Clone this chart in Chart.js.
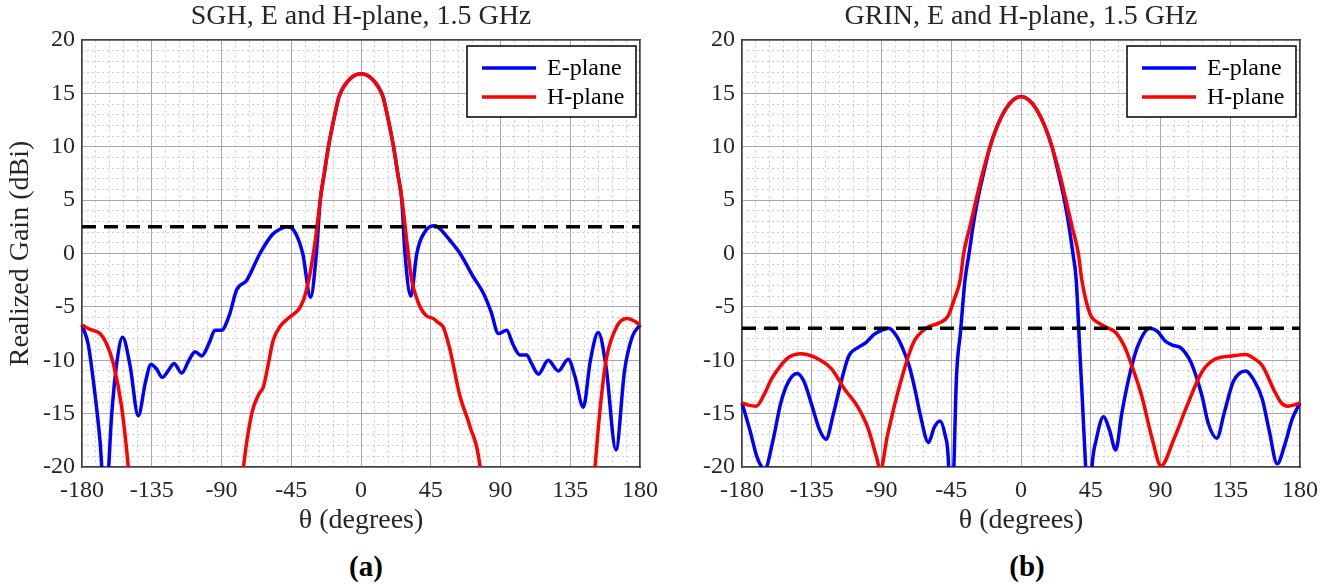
<!DOCTYPE html>
<html>
<head>
<meta charset="utf-8">
<title>Realized gain, SGH and GRIN</title>
<script src="https://cdn.jsdelivr.net/npm/chart.js@4.4.1/dist/chart.umd.min.js"></script>
<style>
  html, body { margin: 0; padding: 0; background: #fff; }
  #page { position: relative; width: 1333px; height: 584px; overflow: hidden; font-family: 'Liberation Serif', 'Times New Roman', serif; }
  .panel { position: absolute; top: 0; }
  .tag { position: absolute; top: 548px; width: 80px; margin-left: -40px; text-align: center; font-weight: bold; font-size: 29px; line-height: 36px; color: #000; }
</style>
</head>
<body>
<div id="page">
  <div class="panel" style="left:0"><canvas id="sghChart" width="673" height="545"></canvas></div>
  <div class="panel" style="left:660px"><canvas id="grinChart" width="673" height="545"></canvas></div>
  <div class="tag" style="left:366px">(a)</div>
  <div class="tag" style="left:1027px">(b)</div>
</div>
<script>
'use strict';

let xTicks = [-180, -135, -90, -45, 0, 45, 90, 135, 180];
let yTicks = [-20, -15, -10, -5, 0, 5, 10, 15, 20];

// (a) SGH
let sghThetaE = [-180, -176, -172.7, -168.4, -165, -160.8, -157.6, -153.8, -149, -143.7, -139, -135.5, -132, -128.2, -124, -120.6, -115.7, -111, -107, -102.8, -98, -94.2, -90, -85, -80.2, -73.7, -65.2, -57, -52, -47.9, -43, -37.6, -32.5, -28.8, -26.3, -23.7, -21, -17.5, -16, -14.4, -12, -9, -6, -3, 0, 3, 6, 9, 12, 14.4, 16, 17.5, 21, 23.7, 26.3, 28.4, 32.1, 36, 42, 47.7, 53, 57, 63.9, 72.5, 78.9, 84, 88.6, 94, 98, 102.6, 106.9, 110, 114.4, 120.8, 127.3, 133.7, 138, 143.4, 148, 153.1, 158, 164.5, 170, 175, 180];
let sghGainE = [-6.7, -8.5, -11.9, -17.5, -24, -15, -10.3, -7.85, -10.5, -15.2, -12, -10.4, -10.8, -11.6, -10.9, -10.3, -11.2, -10, -9.2, -9.6, -8.4, -7.2, -7.2, -5.8, -3.4, -2.5, 0, 1.8, 2.3, 2.5, 2.1, 0, -4.1, 0, 5, 7.5, 10, 12.6, 13.6, 14.6, 15.4, 16.05, 16.5, 16.76, 16.85, 16.76, 16.5, 16.05, 15.4, 14.6, 13.6, 12.6, 10, 7.5, 5, 0, -4.0, 0, 2.2, 2.6, 2.0, 1.3, 0, -2.2, -3.7, -5.5, -7.5, -7.2, -8.5, -9.5, -9.5, -10.3, -11.3, -10, -11, -9.9, -11.5, -14.4, -10, -7.4, -10.5, -18.4, -11, -7.8, -6.7];

let sghThetaH = [-180, -175, -168.4, -164, -159.8, -154.4, -150.1, -145, -82, -75.9, -70.5, -66, -63, -60, -56.6, -52, -48, -43.7, -40, -37.2, -35, -32.9, -29.5, -26.3, -23.7, -21, -17.5, -16, -14.4, -12, -9, -6, -3, 0, 3, 6, 9, 12, 14.4, 16, 17.5, 21, 23.7, 26.5, 29.5, 32.7, 35.5, 38.1, 42, 46.7, 50, 53.1, 57.4, 63.9, 70.3, 76.8, 82, 146, 151, 155, 158.5, 165, 171.4, 176, 180];
let sghGainH = [-6.7, -7.1, -7.5, -8.5, -10.3, -14.4, -20.1, -30, -30, -20.1, -15, -13.2, -12.5, -10.5, -8.1, -6.8, -6.2, -5.7, -5.2, -4.4, -3.3, -1.9, 1.2, 5, 7.5, 10, 12.6, 13.6, 14.6, 15.4, 16.05, 16.5, 16.76, 16.85, 16.76, 16.5, 16.05, 15.4, 14.6, 13.6, 12.6, 10, 7.5, 5, 1.2, -2.5, -4, -5, -5.8, -6.1, -6.5, -6.9, -9, -13.4, -16.2, -20, -30, -30, -20, -13.5, -9.7, -6.85, -6.1, -6.3, -6.7];

let sghLevel = 2.5;

// (b) GRIN
let grinThetaE = [-180, -175, -170, -165.3, -160, -155, -150, -144.4, -140, -135, -130, -125.8, -121, -116, -111.1, -105, -100, -95, -90, -85.3, -80, -76, -72.2, -68, -65.3, -59.7, -56, -52.2, -49, -47, -45, -43.3, -41.7, -39, -36.1, -33.5, -31, -28, -24, -20, -15, -10, -5, 0, 5, 10, 15, 20, 24, 28, 31, 33.5, 35.6, 38, 41.7, 43.5, 45.8, 48.6, 53.3, 57, 61.1, 65, 69.4, 75, 83.3, 88, 93, 98, 102.8, 106, 109.7, 116.7, 121, 126.4, 131, 137, 145, 150, 155.6, 160, 165.3, 170, 175, 180];
let grinGainE = [-14, -16.5, -19.2, -20.2, -17.5, -14, -12, -11.24, -12, -14.2, -16.5, -17.4, -15, -12, -9.6, -8.8, -8.35, -7.6, -7.2, -7.0, -7.8, -9, -10.5, -13, -14.9, -17.7, -16.3, -15.7, -17, -19, -27, -20, -11.8, -7.3, -2.45, 0, 2.5, 5, 7.6, 10, 12.05, 13.5, 14.4, 14.7, 14.4, 13.5, 12.05, 10, 7.6, 5, 2.5, 0, -2.45, -9.3, -20, -27, -20, -17.4, -15.3, -16.5, -18.4, -15, -11.8, -8.8, -7.0, -7.3, -8.2, -8.6, -8.8, -9.3, -10.2, -13.3, -16, -17.3, -15, -12, -11.0, -11.8, -13.6, -16.5, -19.7, -18, -15.5, -14];

let grinThetaH = [-180, -176, -170.8, -166, -161.1, -155, -150, -141.7, -135, -130.6, -122.2, -113.9, -105.6, -98.6, -93, -90.8, -86.1, -77.8, -69.4, -61.1, -52.8, -47.2, -43.1, -39.2, -37, -33, -29, -25, -20, -15, -10, -5, 0, 5, 10, 15, 20, 25, 29, 33, 37, 39.2, 44.4, 50, 55, 61.1, 66.7, 72.2, 77.8, 84.7, 90.3, 98.6, 107, 116.7, 125, 136, 145, 150, 155.6, 163.9, 168, 172.2, 176, 180];
let grinGainH = [-14, -14.2, -14.3, -13.3, -11.8, -10.5, -9.75, -9.4, -9.6, -9.9, -10.8, -12.7, -14.3, -16.4, -19.2, -20.3, -17, -12.1, -8.35, -7.0, -6.5, -5.9, -4.3, -2.45, 0, 2.5, 5, 7.4, 10, 12.05, 13.5, 14.4, 14.7, 14.4, 13.5, 12.05, 10, 7.4, 5, 2.5, 0, -2.45, -5.6, -6.5, -6.9, -7.4, -8.7, -10.8, -13.3, -17.4, -19.9, -17.4, -14.3, -11.1, -9.9, -9.6, -9.45, -9.8, -10.5, -13, -14, -14.3, -14.2, -14];

let grinLevel = -7;

let serif = "'Liberation Serif', 'Times New Roman', serif";
let ink = '#262626';
Chart.defaults.font.family = serif;
Chart.defaults.color = ink;

function toPoints(theta, gain) {
    return theta.map((t, i) => ({ x: t, y: gain[i] }));
}

// framed legend box in the top right corner of the plot
let boxLegend = {
    id: 'boxLegend',
    afterDatasetsDraw(chart, args, opts) {
        let ctx = chart.ctx;
        let area = chart.chartArea;
        let x = area.right - opts.right - opts.width;
        let y = area.top + opts.top;
        ctx.save();
        ctx.fillStyle = '#fff';
        ctx.fillRect(x, y, opts.width, opts.height);
        ctx.strokeStyle = '#000';
        ctx.lineWidth = 1.5;
        ctx.strokeRect(x, y, opts.width, opts.height);
        ctx.font = opts.fontSize + 'px ' + serif;
        ctx.textBaseline = 'middle';
        ctx.textAlign = 'left';
        chart.data.datasets.filter(d => d.label).forEach((d, i) => {
            let ly = y + opts.rowTop + i * opts.rowGap;
            ctx.strokeStyle = d.borderColor;
            ctx.lineWidth = d.borderWidth;
            ctx.beginPath();
            ctx.moveTo(x + opts.lineLeft, ly);
            ctx.lineTo(x + opts.lineLeft + opts.lineLen, ly);
            ctx.stroke();
            ctx.fillStyle = '#000';
            ctx.fillText(d.label, x + opts.textLeft, ly + 1);
        });
        ctx.restore();
    }
};

function makeChart(id, title, eTheta, eGain, hTheta, hGain, level, rightGap, yTitle) {
    let clipBox = { left: 2, right: 2, top: 0, bottom: 0 };
    return new Chart(document.getElementById(id), {
        type: 'line',
        plugins: [boxLegend],
        data: {
            datasets: [{
                label: 'E-plane',
                data: toPoints(eTheta, eGain),
                borderColor: '#0000ff',
                borderWidth: 3.5,
                pointRadius: 0,
                cubicInterpolationMode: 'monotone',
                clip: clipBox,
                xAxisID: 'x',
                yAxisID: 'y',
                order: 3
            }, {
                label: 'H-plane',
                data: toPoints(hTheta, hGain),
                borderColor: '#ff0000',
                borderWidth: 3.5,
                pointRadius: 0,
                cubicInterpolationMode: 'monotone',
                clip: clipBox,
                xAxisID: 'x',
                yAxisID: 'y',
                order: 2
            }, {
                label: '',
                data: [{ x: -180, y: level }, { x: 180, y: level }],
                borderColor: '#000',
                borderWidth: 3.5,
                borderDash: [14, 8],
                pointRadius: 0,
                clip: 0,
                xAxisID: 'x',
                yAxisID: 'y',
                order: 1
            }]
        },
        options: {
            responsive: false,
            animation: false,
            devicePixelRatio: 1,
            layout: { padding: 0 },
            plugins: {
                legend: { display: false },
                tooltip: { enabled: false },
                title: {
                    display: true,
                    text: title,
                    fullSize: false,
                    color: ink,
                    font: { size: 28, weight: 'normal' },
                    padding: { top: 0, bottom: 6.4 }
                },
                boxLegend: {
                    right: 4, top: 6, width: 169, height: 71,
                    rowTop: 22, rowGap: 29,
                    lineLeft: 15, lineLen: 54, textLeft: 80, fontSize: 24
                }
            },
            scales: {
                x: {
                    type: 'linear',
                    position: 'bottom',
                    min: -180,
                    max: 180,
                    afterBuildTicks: s => { s.ticks = xTicks.map(v => ({ value: v })); },
                    afterFit: s => { s.height = 78; },
                    grid: { color: '#a8a8a8', lineWidth: 1, drawTicks: false },
                    border: { color: '#404040', width: 1.5 },
                    ticks: { font: { size: 24 }, color: ink, padding: 9, maxRotation: 0, autoSkip: false },
                    title: { display: true, text: 'θ (degrees)', color: ink, font: { size: 28 }, padding: { top: 0, bottom: 7.2 } }
                },
                xMinor: {
                    type: 'linear',
                    position: 'top',
                    min: -180,
                    max: 180,
                    afterFit: s => { s.height = 0; },
                    ticks: { display: false, stepSize: 9 },
                    grid: {
                        drawTicks: false,
                        lineWidth: 1,
                        color: c => (c.tick && c.tick.value % 45 === 0) ? 'rgba(0,0,0,0)' : '#cdcdcd'
                    },
                    border: { display: true, color: '#404040', width: 1.5, dash: [2, 3] }
                },
                y: {
                    type: 'linear',
                    position: 'left',
                    min: -20,
                    max: 20,
                    afterBuildTicks: s => { s.ticks = yTicks.map(v => ({ value: v })); },
                    afterFit: s => { s.width = 82; },
                    grid: { color: '#a8a8a8', lineWidth: 1, drawTicks: false },
                    border: { color: '#404040', width: 1.5 },
                    ticks: { font: { size: 24 }, color: ink, padding: 7 },
                    title: { display: !!yTitle, text: yTitle || '', color: ink, font: { size: 28 }, padding: { top: 4.2, bottom: 0 } }
                },
                yMinor: {
                    type: 'linear',
                    position: 'right',
                    min: -20,
                    max: 20,
                    afterFit: s => { s.width = rightGap; },
                    ticks: { display: false, stepSize: 1 },
                    grid: {
                        drawTicks: false,
                        lineWidth: 1,
                        color: c => (c.tick && c.tick.value % 5 === 0) ? 'rgba(0,0,0,0)' : '#cdcdcd'
                    },
                    border: { display: true, color: '#404040', width: 1.5, dash: [2, 3] }
                }
            }
        }
    });
}

makeChart('sghChart', 'SGH, E and H-plane, 1.5 GHz', sghThetaE, sghGainE, sghThetaH, sghGainH, sghLevel, 33, 'Realized Gain (dBi)');
makeChart('grinChart', 'GRIN, E and H-plane, 1.5 GHz', grinThetaE, grinGainE, grinThetaH, grinGainH, grinLevel, 33, '');
</script>
</body>
</html>
